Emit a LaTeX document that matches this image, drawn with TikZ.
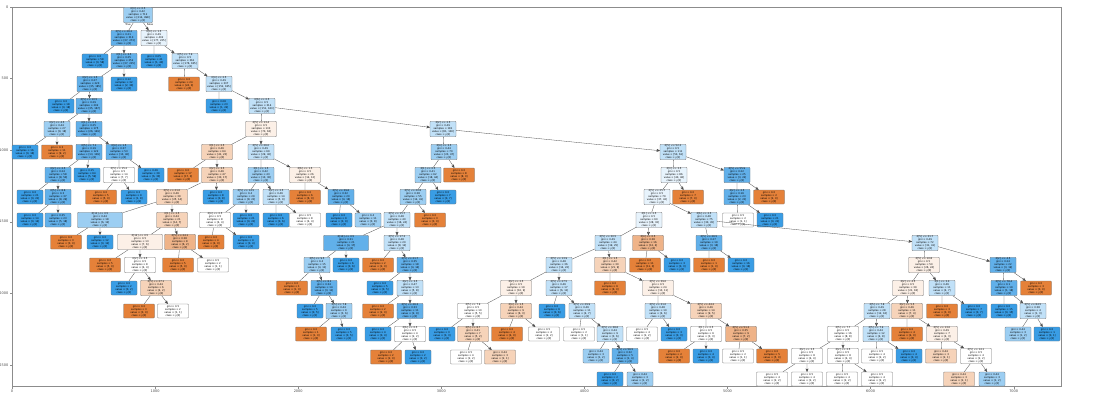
\documentclass[tikz,border=0pt]{standalone}
\usepackage{fontspec}
\setmainfont{DejaVu Sans}
\usetikzlibrary{arrows}
\definecolor{bB}{HTML}{399DE5}
\definecolor{bthree}{HTML}{61B0EA}
\definecolor{btwo}{HTML}{9CCEF2}
\definecolor{bone}{HTML}{C1E1F8}
\definecolor{bzero}{HTML}{E7F3FC}
\definecolor{oO}{HTML}{E58139}
\definecolor{otwo}{HTML}{EFB388}
\definecolor{oone}{HTML}{F6D3B9}
\definecolor{ozero}{HTML}{FCF0E7}
\newcommand{\dsplit}[5]{#1\\gini = #2\\samples = #3\\value = [#4]\\class = y[#5]}
\newcommand{\dleaf}[4]{gini = #1\\samples = #2\\value = [#3]\\class = y[#4]}
\tikzset{
    x=1pt, y=-1pt,
    tnode/.style={
        draw=black!55,
        line width=0.3pt,
        rounded corners=0.8pt,
        inner sep=0.7pt,
        align=center,
        font=\fontsize{2.5}{2.9}\selectfont,
        minimum width=26pt,
        minimum height=14pt
    },
    cB/.style={tnode, fill=bB},
    cb3/.style={tnode, fill=bthree},
    cb2/.style={tnode, fill=btwo},
    cb1/.style={tnode, fill=bone},
    cb0/.style={tnode, fill=bzero},
    cW/.style={tnode, fill=white, minimum width=31pt},
    cO/.style={tnode, fill=oO, minimum width=31pt},
    co2/.style={tnode, fill=otwo, minimum width=31pt},
    co1/.style={tnode, fill=oone, minimum width=31pt},
    co0/.style={tnode, fill=ozero, minimum width=31pt},
    wl/.style={minimum width=45pt},
    link/.style={
        draw=black!70,
        line width=0.3pt,
        ->,>=stealth'
    },
    ticklab/.style={font=\fontsize{3.5}{4}\selectfont, inner sep=0.5pt, text=black!70}
}
\begin{document}
\begin{tikzpicture}
\useasboundingbox (0,0) rectangle (1099,404);
% axes frame
\draw[black!45, line width=0.4pt] (12,7) rectangle (1061,386);
\foreach \i [evaluate=\i as \v using int(\i*1000)] in {0,...,7} {
    \draw[black!45, line width=0.3pt] (12+143.1*\i,386) -- ++(0,2.5);
    \node[ticklab, anchor=north] (xt\i) at (12+143.1*\i,389) {\v};
}
\foreach \i [evaluate=\i as \v using int(\i*500)] in {0,...,5} {
    \draw[black!45, line width=0.3pt] (12,7+71.55*\i) -- ++(-2.5,0);
    \node[ticklab, anchor=east] (yt\i) at (9,7+71.55*\i) {\v};
}
% level 0 - 3
\node[cb2, minimum width=29pt] (n0) at (138,15) {\dsplit{X[3] <= 0.5}{0.42}{712}{214, 498}{1}};
\node[cb3] (n1) at (124,38) {\dsplit{X[5] <= 26.2}{0.21}{310}{37, 273}{1}};
\node[cb0] (n2) at (154,38) {\dsplit{X[0] <= 1.5}{0.49}{402}{177, 225}{1}};
\node[cB] (n3) at (95,61) {\dleaf{0.0}{58}{0, 58}{1}};
\node[cb3] (n4) at (124,61) {\dsplit{X[1] <= 3.5}{0.25}{252}{37, 215}{1}};
\node[cB] (n5) at (154,61) {\dleaf{0.05}{41}{1, 40}{1}};
\node[cb1] (n6) at (185,61) {\dsplit{X[5] <= 7.9}{0.5}{361}{176, 185}{1}};
\node[cb3] (n7) at (90,84) {\dsplit{X[2] <= 1.5}{0.27}{220}{35, 185}{1}};
\node[cB] (n8) at (124,84) {\dleaf{0.12}{32}{2, 30}{1}};
\node[cO] (n9) at (184,84) {\dleaf{0.0}{24}{24, 0}{0}};
\node[cb1] (n10) at (219,84) {\dsplit{X[4] <= 2.5}{0.49}{337}{152, 185}{1}};
% level 4 - 6
\node[cB] (n11) at (61,106) {\dleaf{0.0}{18}{0, 18}{1}};
\node[cb3] (n12) at (89,106) {\dsplit{X[5] <= 10.5}{0.29}{202}{35, 167}{1}};
\node[cB] (n13) at (219,106) {\dleaf{0.08}{23}{1, 22}{1}};
\node[cb1] (n14) at (262,106) {\dsplit{X[6] <= 0.5}{0.5}{314}{151, 163}{1}};
\node[cb2] (n15) at (57,129) {\dsplit{X[2] <= 4.5}{0.44}{27}{9, 18}{1}};
\node[cb3] (n16) at (89,129) {\dsplit{X[1] <= 0.5}{0.25}{175}{26, 149}{1}};
\node[co0] (n17) at (261,129) {\dsplit{X[5] <= 13.4}{0.5}{133}{70, 63}{0}};
\node[cb1] (n18) at (443,129) {\dsplit{X[2] <= 2.5}{0.49}{181}{81, 100}{1}};
\node[cB] (n19) at (25,152) {\dleaf{0.0}{16}{0, 16}{1}};
\node[cO] (n20) at (57,152) {\dleaf{0.3}{11}{9, 2}{0}};
\node[cb3] (n21) at (89,152) {\dsplit{X[5] <= 7.1}{0.19}{122}{13, 109}{1}};
\node[cb3] (n22) at (119,152) {\dsplit{X[4] <= 1.5}{0.37}{53}{13, 40}{1}};
\node[co1] (n23) at (217,152) {\dsplit{X[1] <= 2.5}{0.46}{64}{41, 23}{0}};
\node[cb1] (n24) at (261,152) {\dsplit{X[5] <= 26.0}{0.49}{69}{29, 40}{1}};
\node[cb2] (n25) at (444,152) {\dsplit{X[4] <= 3.5}{0.44}{70}{23, 47}{1}};
\node[cb1] (n26) at (673,152) {\dsplit{X[5] <= 52.3}{0.5}{111}{50, 61}{1}};
% level 7 - 8
\node[cb3] (n27) at (58,175) {\dsplit{X[2] <= 2.5}{0.24}{58}{8, 50}{1}};
\node[cB] (n28) at (87,175) {\dleaf{0.15}{64}{5, 59}{1}};
\node[cW] (n29) at (119,175) {\dsplit{X[5] <= 15.2}{0.5}{14}{7, 7}{0}};
\node[cB] (n30) at (151,175) {\dleaf{0.26}{39}{6, 33}{1}};
\node[cO] (n31) at (183,175) {\dleaf{0.0}{17}{17, 0}{0}};
\node[co1] (n32) at (217,175) {\dsplit{X[2] <= 3.5}{0.46}{47}{30, 17}{0}};
\node[cb2] (n33) at (261,175) {\dsplit{X[1] <= 1.5}{0.42}{43}{13, 30}{1}};
\node[co0] (n34) at (305,175) {\dsplit{X[6] <= 1.5}{0.5}{26}{14, 12}{0}};
\node[cb2] (n35) at (428,175) {\dsplit{X[1] <= 0.5}{0.41}{62}{18, 44}{1}};
\node[cO] (n36) at (459,175) {\dleaf{0.0}{8}{8, 0}{0}};
\node[cb0] (n37) at (674,175) {\dsplit{X[3] <= 3.5}{0.5}{86}{40, 46}{1}};
\node[cb3] (n38) at (737,175) {\dsplit{X[5] <= 55.9}{0.22}{25}{3, 22}{1}};
\node[cB] (n39) at (30,197) {\dleaf{0.0}{21}{0, 21}{1}};
\node[cb3] (n40) at (58,197) {\dsplit{X[5] <= 8.6}{0.3}{37}{8, 29}{1}};
\node[cO] (n41) at (101,197) {\dleaf{0.0}{5}{5, 0}{0}};
\node[cB] (n42) at (134,197) {\dleaf{0.2}{9}{1, 8}{1}};
\node[co1] (n43) at (172,197) {\dsplit{X[5] <= 21.0}{0.46}{39}{25, 14}{0}};
\node[cB] (n44) at (216,197) {\dleaf{0.0}{8}{0, 8}{1}};
\node[cb2] (n45) at (246,197) {\dsplit{X[5] <= 14.5}{0.4}{29}{8, 21}{1}};
\node[cb1] (n46) at (276,197) {\dsplit{X[2] <= 2.5}{0.46}{14}{5, 9}{1}};
\node[cO] (n47) at (305,197) {\dleaf{0.0}{6}{6, 0}{0}};
\node[cb3] (n48) at (341,197) {\dsplit{X[5] <= 39.6}{0.32}{20}{4, 16}{1}};
\node[cb2] (n49) at (413,197) {\dsplit{X[5] <= 20.8}{0.38}{55}{14, 41}{1}};
\node[cB] (n50) at (443,197) {\dleaf{0.0}{7}{0, 7}{1}};
\node[cb0] (n51) at (657,197) {\dsplit{X[5] <= 25.7}{0.5}{79}{37, 42}{1}};
\node[cO] (n52) at (688,197) {\dleaf{0.0}{7}{7, 0}{0}};
\node[cb3] (n53) at (737,197) {\dsplit{X[2] <= 2.5}{0.16}{23}{2, 21}{1}};
\node[cO] (n54) at (769,197) {\dleaf{0.0}{2}{2, 0}{0}};
% level 9 - 10
\node[cB] (n55) at (30,220) {\dleaf{0.0}{14}{0, 14}{1}};
\node[cb3] (n56) at (58,220) {\dleaf{0.35}{23}{5, 18}{1}};
\node[cb2, wl] (n57) at (100,220) {\dsplit{X[11] <= 0.5}{0.44}{18}{6, 12}{1}};
\node[co1] (n58) at (172,220) {\dsplit{X[1] <= 2.5}{0.44}{21}{14, 7}{0}};
\node[cW] (n59) at (215,220) {\dsplit{X[4] <= 0.5}{0.5}{8}{4, 4}{0}};
\node[cB] (n60) at (246,220) {\dleaf{0.0}{21}{0, 21}{1}};
\node[cB] (n61) at (276,220) {\dleaf{0.0}{6}{0, 6}{1}};
\node[cW] (n62) at (305,220) {\dleaf{0.5}{8}{4, 4}{0}};
\node[cB] (n63) at (339,220) {\dleaf{0.0}{9}{0, 9}{1}};
\node[cb2] (n64) at (368,220) {\dleaf{0.4}{11}{3, 8}{1}};
\node[cb1] (n65) at (397,220) {\dsplit{X[5] <= 15.7}{0.48}{40}{16, 24}{1}};
\node[cO] (n66) at (430,220) {\dleaf{0.0}{3}{3, 0}{0}};
\node[cb0] (n67) at (649,220) {\dsplit{X[1] <= 2.5}{0.5}{60}{28, 32}{1}};
\node[cb1] (n68) at (704,220) {\dsplit{X[6] <= 2.5}{0.48}{75}{30, 45}{1}};
\node[cW] (n69) at (738,220) {\dleaf{0.5}{2}{1, 1}{0}};
\node[cB] (n70) at (770,220) {\dleaf{0.0}{21}{0, 21}{1}};
\node[cO] (n71) at (66,242) {\dleaf{0.0}{3}{3, 0}{0}};
\node[cB] (n72) at (100,242) {\dleaf{0.0}{12}{0, 12}{1}};
\node[co0, wl] (n73) at (140,242) {\dsplit{X[12] <= 0.5}{0.5}{13}{7, 6}{0}};
\node[co2] (n74) at (180,242) {\dsplit{X[5] <= 24.1}{0.38}{8}{6, 2}{0}};
\node[cO, minimum width=26pt] (n75) at (211,242) {\dleaf{0.0}{4}{4, 0}{0}};
\node[cB] (n76) at (246,242) {\dleaf{0.0}{4}{0, 4}{1}};
\node[cb3, wl] (n77) at (346,243) {\dsplit{X[10] <= 0.5}{0.31}{21}{4, 17}{1}};
\node[cb1] (n78) at (397,243) {\dsplit{X[5] <= 17.3}{0.48}{20}{8, 12}{1}};
\node[cb1] (n79) at (608,243) {\dsplit{X[5] <= 30.5}{0.49}{44}{19, 25}{1}};
\node[co2] (n80) at (648,243) {\dsplit{X[4] <= 0.5}{0.38}{16}{12, 4}{0}};
\node[cb3] (n81) at (709,243) {\dsplit{X[5] <= 26.5}{0.27}{19}{3, 16}{1}};
\node[cb1] (n82) at (925,243) {\dsplit{X[5] <= 31.7}{0.49}{72}{31, 41}{1}};
% level 11 - 12
\node[cO] (n83) at (105,265) {\dleaf{0.0}{5}{5, 0}{0}};
\node[cW] (n84) at (140,265) {\dsplit{X[2] <= 3.5}{0.5}{8}{4, 4}{0}};
\node[cO] (n85) at (178,265) {\dleaf{0.0}{5}{5, 0}{0}};
\node[cW] (n86) at (213,265) {\dleaf{0.5}{2}{1, 1}{0}};
\node[cb2] (n87) at (317,265) {\dsplit{X[5] <= 9.5}{0.4}{15}{4, 11}{1}};
\node[cB] (n88) at (346,265) {\dleaf{0.0}{6}{0, 6}{1}};
\node[cO] (n89) at (378,265) {\dleaf{0.0}{2}{2, 0}{0}};
\node[cb3] (n90) at (410,265) {\dsplit{X[5] <= 21.7}{0.35}{18}{4, 14}{1}};
\node[cb1] (n91) at (559,265) {\dsplit{X[5] <= 13.9}{0.48}{36}{14, 22}{1}};
\node[co1] (n92) at (610,265) {\dsplit{X[1] <= 1.5}{0.42}{30}{21, 9}{0}};
\node[cO] (n93) at (645,265) {\dleaf{0.0}{11}{11, 0}{0}};
\node[cB] (n94) at (677,265) {\dleaf{0.0}{3}{0, 3}{1}};
\node[cO] (n95) at (709,265) {\dleaf{0.0}{1}{1, 0}{0}};
\node[cB] (n96) at (741,265) {\dleaf{0.0}{16}{0, 16}{1}};
\node[co0] (n97) at (924,265) {\dsplit{X[5] <= 10.8}{0.5}{50}{26, 24}{0}};
\node[cb3] (n98) at (1003,265) {\dsplit{X[2] <= 4.5}{0.24}{22}{3, 19}{1}};
\node[cB] (n99) at (124,288) {\dleaf{0.0}{2}{0, 2}{1}};
\node[co1] (n100) at (156,288) {\dsplit{X[5] <= 27.1}{0.44}{6}{4, 2}{0}};
\node[cO] (n101) at (292,288) {\dleaf{0.0}{1}{1, 0}{0}};
\node[cb3] (n102) at (324,288) {\dsplit{X[5] <= 8.1}{0.34}{14}{3, 11}{1}};
\node[cB] (n103) at (380,288) {\dleaf{0.0}{5}{0, 5}{1}};
\node[cb1] (n104) at (410,288) {\dsplit{X[2] <= 3.5}{0.47}{13}{5, 8}{1}};
\node[co0] (n105) at (516,288) {\dsplit{X[2] <= 2.5}{0.5}{19}{10, 9}{0}};
\node[cb1] (n106) at (559,288) {\dsplit{X[5] <= 27.5}{0.46}{17}{6, 11}{1}};
\node[cO] (n107) at (610,288) {\dleaf{0.0}{6}{6, 0}{0}};
\node[co0] (n108) at (658,288) {\dsplit{X[5] <= 39.0}{0.5}{24}{13, 11}{0}};
\node[co0] (n109) at (908,288) {\dsplit{X[2] <= 4.5}{0.5}{39}{21, 18}{0}};
\node[cb1] (n110) at (942,288) {\dsplit{X[1] <= 3.0}{0.46}{11}{4, 7}{1}};
\node[cb3] (n111) at (1004,288) {\dsplit{X[5] <= 78.4}{0.1}{19}{1, 18}{1}};
\node[cO] (n112) at (1036,288) {\dleaf{0.0}{3}{3, 0}{0}};
% level 13 - 14
\node[cO] (n113) at (139,311) {\dleaf{0.0}{3}{3, 0}{0}};
\node[cW] (n114) at (173,311) {\dleaf{0.5}{2}{1, 1}{0}};
\node[cB] (n115) at (310,311) {\dleaf{0.0}{5}{0, 5}{1}};
\node[cb2] (n116) at (339,311) {\dsplit{X[5] <= 7.8}{0.44}{9}{3, 6}{1}};
\node[cO] (n117) at (378,311) {\dleaf{0.0}{2}{2, 0}{0}};
\node[cb3] (n118) at (410,311) {\dsplit{X[5] <= 26.3}{0.33}{11}{2, 9}{1}};
\node[cW] (n119) at (473,311) {\dsplit{X[5] <= 7.9}{0.5}{10}{5, 5}{0}};
\node[co1] (n120) at (516,311) {\dsplit{X[4] <= 1.5}{0.44}{9}{6, 3}{0}};
\node[cB] (n121) at (552,311) {\dleaf{0.0}{6}{0, 6}{1}};
\node[cb1] (n122) at (582,311) {\dsplit{X[5] <= 29.9}{0.46}{11}{4, 7}{1}};
\node[cb1] (n123) at (658,311) {\dsplit{X[5] <= 31.0}{0.48}{10}{4, 6}{1}};
\node[co1] (n124) at (706,311) {\dsplit{X[5] <= 44.2}{0.46}{14}{9, 5}{0}};
\node[cb1] (n125) at (877,311) {\dsplit{X[5] <= 7.8}{0.49}{28}{12, 16}{1}};
\node[co1] (n126) at (907,311) {\dsplit{X[2] <= 5.5}{0.46}{11}{7, 4}{0}};
\node[cO] (n127) at (942,311) {\dleaf{0.0}{3}{3, 0}{0}};
\node[cB] (n128) at (974,311) {\dleaf{0.0}{7}{0, 7}{1}};
\node[cB] (n129) at (1004,311) {\dleaf{0.0}{15}{0, 15}{1}};
\node[cb1] (n130) at (1033,311) {\dsplit{X[5] <= 84.5}{0.38}{4}{1, 3}{1}};
\node[cO] (n131) at (311,334) {\dleaf{0.0}{1}{1, 0}{0}};
\node[cB] (n132) at (344,334) {\dleaf{0.0}{5}{0, 5}{1}};
\node[cB] (n133) at (378,334) {\dleaf{0.0}{4}{0, 4}{1}};
\node[cW] (n134) at (410,334) {\dsplit{X[6] <= 0.5}{0.5}{4}{2, 2}{0}};
\node[cB] (n135) at (442,334) {\dleaf{0.0}{3}{0, 3}{1}};
\node[co1] (n136) at (473,334) {\dsplit{X[5] <= 8.7}{0.41}{7}{5, 2}{0}};
\node[cO] (n137) at (507,334) {\dleaf{0.0}{4}{4, 0}{0}};
\node[cW] (n138) at (544,334) {\dleaf{0.5}{4}{2, 2}{0}};
\node[cW] (n139) at (579,334) {\dleaf{0.5}{2}{1, 1}{0}};
\node[cb1] (n140) at (610,334) {\dsplit{X[5] <= 38.6}{0.44}{9}{3, 6}{1}};
\node[cW] (n141) at (642,334) {\dleaf{0.5}{4}{2, 2}{0}};
\node[cB] (n142) at (674,334) {\dleaf{0.0}{3}{0, 3}{1}};
\node[cW] (n143) at (706,334) {\dsplit{X[1] <= 0.5}{0.5}{6}{3, 3}{0}};
\node[co2] (n144) at (741,334) {\dsplit{X[5] <= 51.3}{0.35}{9}{7, 2}{0}};
\node[cW] (n145) at (843,334) {\dsplit{X[5] <= 7.7}{0.5}{16}{8, 8}{0}};
\node[cb1] (n146) at (876,334) {\dsplit{X[5] <= 7.9}{0.44}{12}{4, 8}{1}};
\node[cO] (n147) at (907,334) {\dleaf{0.0}{4}{4, 0}{0}};
\node[co0] (n148) at (942,334) {\dsplit{X[5] <= 13.0}{0.49}{7}{4, 3}{0}};
\node[cb2] (n149) at (1018,334) {\dleaf{0.44}{3}{1, 2}{1}};
\node[cB] (n150) at (1047,334) {\dleaf{0.0}{1}{0, 1}{1}};
% level 15 - 16
\node[cO] (n151) at (386,357) {\dleaf{0.0}{2}{2, 0}{0}};
\node[cB] (n152) at (418,357) {\dleaf{0.0}{2}{0, 2}{1}};
\node[cW] (n153) at (466,357) {\dleaf{0.5}{4}{2, 2}{0}};
\node[co1] (n154) at (500,357) {\dleaf{0.44}{3}{2, 1}{0}};
\node[cb2] (n155) at (596,356) {\dleaf{0.44}{3}{1, 2}{1}};
\node[cb3] (n156) at (625,356) {\dsplit{X[5] <= 56.5}{0.32}{5}{1, 4}{1}};
\node[cO] (n157) at (674,356) {\dleaf{0.0}{2}{2, 0}{0}};
\node[cB] (n158) at (706,356) {\dleaf{0.0}{4}{0, 4}{1}};
\node[cW] (n159) at (738,356) {\dleaf{0.5}{2}{1, 1}{0}};
\node[cO] (n160) at (772,356) {\dleaf{0.0}{5}{5, 0}{0}};
\node[cW] (n161) at (807,356) {\dsplit{X[2] <= 3.5}{0.5}{8}{4, 4}{0}};
\node[cW] (n162) at (843,356) {\dsplit{X[2] <= 2.5}{0.5}{8}{4, 4}{0}};
\node[cW] (n163) at (877,356) {\dleaf{0.5}{4}{2, 2}{0}};
\node[cB] (n164) at (909,356) {\dleaf{0.0}{4}{0, 4}{1}};
\node[co1] (n165) at (941,356) {\dleaf{0.44}{3}{2, 1}{0}};
\node[cW] (n166) at (976,356) {\dsplit{X[5] <= 14.1}{0.5}{4}{2, 2}{0}};
\node[cB] (n167) at (610,379) {\dleaf{0.0}{2}{0, 2}{1}};
\node[cb2] (n168) at (640,379) {\dleaf{0.44}{3}{1, 2}{1}};
\node[cW] (n169) at (772,379) {\dleaf{0.5}{4}{2, 2}{0}};
\node[cW] (n170) at (807,379) {\dleaf{0.5}{4}{2, 2}{0}};
\node[cW] (n171) at (842,379) {\dleaf{0.5}{4}{2, 2}{0}};
\node[cW] (n172) at (877,379) {\dleaf{0.5}{4}{2, 2}{0}};
\node[co1] (n173) at (959,379) {\dleaf{0.44}{3}{2, 1}{0}};
\node[cb2] (n174) at (992,379) {\dleaf{0.44}{3}{1, 2}{1}};
% root edge labels
\node[font=\fontsize{2.5}{3}\selectfont, inner sep=0pt] (ltrue) at (128,25) {True};
\node[font=\fontsize{2.5}{3}\selectfont, inner sep=0pt] (lfalse) at (150,25) {False};
% edges
\foreach \p/\a/\b in {0/1/2, 1/3/4, 2/5/6, 4/7/8, 6/9/10, 7/11/12, 10/13/14,
    12/15/16, 14/17/18, 15/19/20, 16/21/22, 17/23/24, 18/25/26, 21/27/28,
    22/29/30, 23/31/32, 24/33/34, 25/35/36, 26/37/38, 27/39/40, 29/41/42,
    32/43/44, 33/45/46, 34/47/48, 35/49/50, 37/51/52, 38/53/54, 40/55/56,
    43/57/58, 45/59/60, 46/61/62, 48/63/64, 49/65/66, 51/67/68, 53/69/70,
    57/71/72, 58/73/74, 59/75/76, 65/77/78, 67/79/80, 68/81/82, 73/83/84,
    74/85/86, 77/87/88, 78/89/90, 79/91/92, 80/93/94, 81/95/96, 82/97/98,
    84/99/100, 87/101/102, 90/103/104, 91/105/106, 92/107/108, 97/109/110,
    98/111/112, 100/113/114, 102/115/116, 104/117/118, 105/119/120,
    106/121/122, 108/123/124, 109/125/126, 110/127/128, 111/129/130,
    116/131/132, 118/133/134, 119/135/136, 120/137/138, 122/139/140,
    123/141/142, 124/143/144, 125/145/146, 126/147/148, 130/149/150,
    134/151/152, 136/153/154, 140/155/156, 143/157/158, 144/159/160,
    145/161/162, 146/163/164, 148/165/166, 156/167/168, 161/169/170,
    162/171/172, 166/173/174}
    \draw[link] (n\p) -- (n\a) (n\p) -- (n\b);
\end{tikzpicture}
\end{document}
